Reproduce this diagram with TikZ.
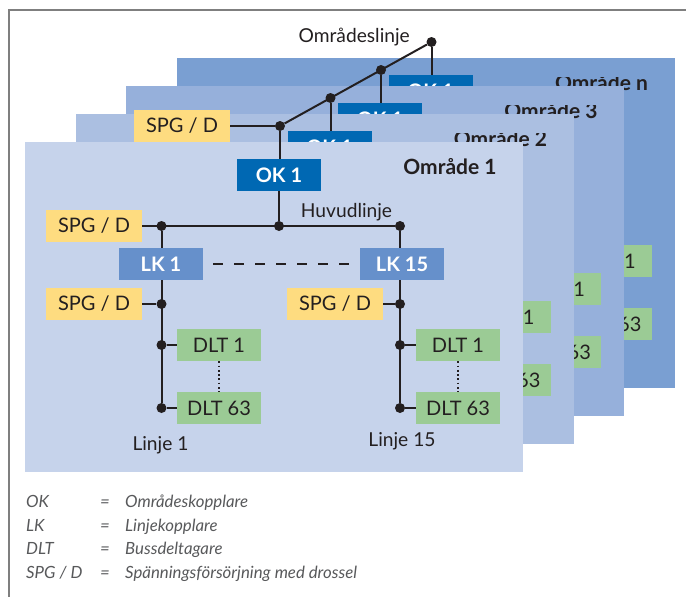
\documentclass[tikz,border=0pt]{standalone}
\usepackage{fontspec}
\setmainfont{Lato}
\definecolor{ink}{HTML}{231F20}
\definecolor{legendgray}{HTML}{58595B}
\definecolor{framegray}{HTML}{7F7F7F}
\definecolor{okblue}{HTML}{0068B3}
\definecolor{lkblue}{HTML}{6690CB}
\definecolor{dltgreen}{HTML}{9BCB95}
\definecolor{spgyellow}{HTML}{FEDC80}
\definecolor{areaA}{HTML}{C6D3EB}
\definecolor{areaB}{HTML}{ABBFE1}
\definecolor{areaC}{HTML}{96B0DB}
\definecolor{areaD}{HTML}{7A9FD2}
\tikzset{
  busline/.style={line width=2pt, draw=ink},
  joint/.style={circle, fill=ink, inner sep=0pt, minimum size=10pt},
  box/.style={inner sep=0pt, minimum width=84pt, minimum height=32pt,
    text=ink, font=\fontsize{20}{20}\selectfont},
  okbox/.style={box, fill=okblue, text=white, font=\bfseries\fontsize{20}{20}\selectfont},
  lkbox/.style={okbox, fill=lkblue},
  dltbox/.style={box, fill=dltgreen},
  spgbox/.style={box, fill=spgyellow, minimum width=96pt},
  areatitle/.style={anchor=base, inner sep=0pt, text=ink, font=\bfseries\fontsize{21}{21}\selectfont},
  label/.style={anchor=base, inner sep=0pt, text=ink, font=\fontsize{19.2}{19.2}\selectfont},
  legend/.style={anchor=base west, inner sep=0pt, text=legendgray, font=\itshape\fontsize{16.8}{16.8}\selectfont},
  dotline/.style={ink, line width=1.7pt, dash pattern=on 1.7pt off 2.6pt},
}
% One area: background, couplers, lines and devices.
% #1 = depth index, #2 = fill colour, #3 = title, #4 = 1 to trim the title top
\newcommand\drawarea[4]{%
\begin{scope}[shift={(50.5*#1,-28*#1)}]
  \fill[#2] (25,142) rectangle (523,472);
  \ifnum#4=1
    \begin{scope}
      \clip (380,161) rectangle (523,195);
      \node[areatitle] (t#1) at (450,174) {#3};
    \end{scope}
  \else
    \node[areatitle] (t#1) at (450,174) {#3};
  \fi
  % area coupler
  \node[joint] (a#1) at (280,126) {};
  \node[okbox] (ok#1) at (279,175) {OK 1};
  % main line
  \node[spgbox] (spga#1) at (94,226) {SPG / D};
  \node[joint] (l#1) at (161.5,226) {};
  \node[joint] (h#1) at (279,226) {};
  \node[joint] (r#1) at (400,226) {};
  \node[label] (hl#1) at (346.5,217.5) {Huvudlinje};
  % line couplers
  \node[lkbox] (lka#1) at (161,264) {LK 1};
  \node[lkbox] (lkb#1) at (402,264) {LK 15};
  % line 1
  \node[spgbox] (spgb#1) at (94,304) {SPG / D};
  \node[joint] (ls#1) at (161.5,304) {};
  \node[dltbox] (da#1) at (219,345) {DLT 1};
  \node[joint] (lda#1) at (161.5,345) {};
  \node[dltbox] (db#1) at (219,408) {DLT 63};
  \node[joint] (ldb#1) at (161.5,408) {};
  \node[label] (ln#1) at (160.5,450.5) {Linje 1};
  % line 15
  \node[spgbox] (spgc#1) at (335,304) {SPG / D};
  \node[joint] (rs#1) at (400,304) {};
  \node[dltbox] (dc#1) at (458,345) {DLT 1};
  \node[joint] (rda#1) at (400,345) {};
  \node[dltbox] (dd#1) at (458,408) {DLT 63};
  \node[joint] (rdb#1) at (400,408) {};
  \node[label] (lo#1) at (402,446.5) {Linje 15};
  % connectors
  \draw[busline] (a#1) -- (a#1 |- ok#1.north);
  \draw[busline] (ok#1.south) -- (h#1);
  \draw[busline] (spga#1.east) -- (r#1);
  \draw[busline] (l#1) -- (l#1 |- lka#1.north);
  \draw[busline] (l#1 |- lka#1.south) -- (ldb#1);
  \draw[busline] (r#1) -- (r#1 |- lkb#1.north);
  \draw[busline] (r#1 |- lkb#1.south) -- (rdb#1);
  \draw[busline, dash pattern=on 10pt off 11pt] ([xshift=10pt]lka#1.east) -- ([xshift=-10pt]lkb#1.west);
  \draw[busline] (spgb#1.east) -- (ls#1);
  \draw[busline] (spgc#1.east) -- (rs#1);
  \draw[busline] (lda#1) -- (da#1.west);
  \draw[busline] (ldb#1) -- (db#1.west);
  \draw[busline] (rda#1) -- (dc#1.west);
  \draw[busline] (rdb#1) -- (dd#1.west);
  \draw[dotline] (da#1.south) -- (db#1.north);
  \draw[dotline] (dc#1.south) -- (dd#1.north);
\end{scope}}

\begin{document}
\begin{tikzpicture}[x=1pt, y=-1pt]
\useasboundingbox (0,0) rectangle (686,597);
\fill[white] (0,0) rectangle (686,597);
% outer frame
\draw[framegray, line width=1.3pt] (9,597) -- (9,10) -- (686,10);

% areas, back to front
\drawarea{3}{areaD}{Område n}{1}
\drawarea{2}{areaC}{Område 3}{1}
\drawarea{1}{areaB}{Område 2}{1}
\drawarea{0}{areaA}{Område 1}{0}

% area line
\node[spgbox] (spgtop) at (182,126) {SPG / D};
\draw[busline] (spgtop.east) -- (a0);
\draw[busline] (a0) -- (a3);
\node[label, anchor=base east] (al) at (410,42.5) {Områdeslinje};

% legend
\node[legend] (k1) at (26,507) {OK};
\node[legend] (e1) at (100,507) {=};
\node[legend] (v1) at (125,507) {Områdeskopplare};
\node[legend] (k2) at (26,531) {LK};
\node[legend] (e2) at (100,531) {=};
\node[legend] (v2) at (125,531) {Linjekopplare};
\node[legend] (k3) at (26,554.5) {DLT};
\node[legend] (e3) at (100,554.5) {=};
\node[legend] (v3) at (125,554.5) {Bussdeltagare};
\node[legend] (k4) at (26,578) {SPG / D};
\node[legend] (e4) at (100,578) {=};
\node[legend] (v4) at (125,578) {Spänningsförsörjning med drossel};
\end{tikzpicture}
\end{document}
